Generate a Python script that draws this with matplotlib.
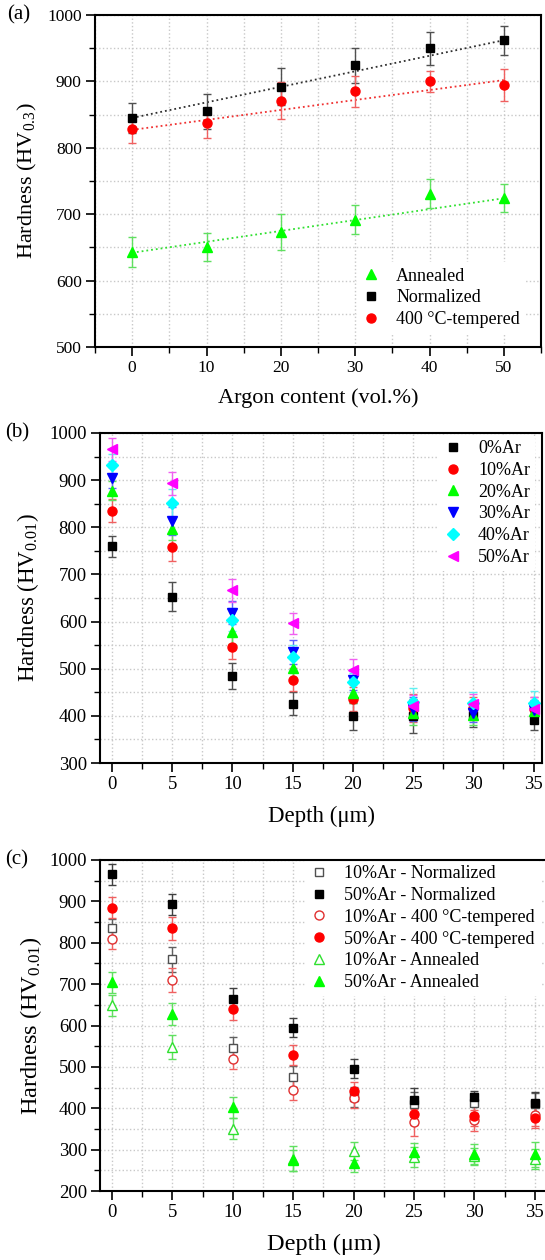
import numpy as np
from matplotlib import pyplot as plt
from matplotlib.ticker import MultipleLocator

plt.rcParams['font.family'] = ['Liberation Serif', 'DejaVu Serif']
plt.rcParams['mathtext.fontset'] = 'custom'
plt.rcParams['mathtext.rm'] = 'Liberation Serif'
plt.rcParams['mathtext.it'] = 'Liberation Serif:italic'

# ---- panel (a) data ----
argon = [0, 10, 20, 30, 40, 50]
hv_annealed = [643, 651, 673, 692, 731, 725]
err_annealed = [22, 21, 27, 22, 22, 21]
hv_normalized = [845, 855, 892, 924, 950, 962]
err_normalized = [23, 26, 28, 26, 25, 22]
hv_tempered = [828, 837, 871, 885, 900, 895]
err_tempered = [21, 22, 28, 23, 16, 24]
# linear fit lines (values at 0 and 50 vol.%)
fit_x = [0, 50]
fit_annealed = [642, 724]
fit_normalized = [845, 962]
fit_tempered = [827, 902]

# ---- panel (b) data ----
depth = [0, 5, 10, 15, 20, 25, 30, 35]
b_labels = ["0%Ar", "10%Ar", "20%Ar", "30%Ar", "40%Ar", "50%Ar"]
b_ar0 = [760, 653, 485, 426, 399, 400, 401, 392]
b_ar10 = [835, 759, 546, 477, 436, 416, 416, 414]
b_ar20 = [878, 797, 578, 501, 448, 406, 401, 411]
b_ar30 = [905, 814, 619, 536, 475, 415, 407, 413]
b_ar40 = [933, 851, 604, 525, 471, 430, 428, 428]
b_ar50 = [965, 893, 666, 596, 498, 420, 426, 414]
b_err0 = [22, 31, 28, 24, 28, 36, 25, 22]
b_err10 = [24, 30, 26, 25, 25, 30, 25, 25]
b_err20 = [20, 25, 25, 22, 20, 25, 20, 20]
b_err30 = [22, 30, 25, 25, 20, 25, 20, 20]
b_err40 = [22, 30, 25, 25, 20, 30, 22, 25]
b_err50 = [25, 25, 25, 23, 22, 25, 20, 25]

# ---- panel (c) data ----
c_labels = ["10%Ar - Normalized", "50%Ar - Normalized",
            "10%Ar - 400 \u00b0C-tempered", "50%Ar - 400 \u00b0C-tempered",
            "10%Ar - Annealed", "50%Ar - Annealed"]
c_n10 = [835, 760, 545, 476, 427, 410, 413, 411]
c_n50 = [965, 893, 665, 595, 496, 419, 426, 413]
c_t10 = [809, 710, 519, 444, 425, 366, 371, 383]
c_t50 = [885, 835, 639, 529, 441, 385, 381, 377]
c_a10 = [649, 548, 351, 278, 297, 282, 285, 277]
c_a50 = [704, 628, 402, 274, 267, 294, 289, 289]
c_en10 = [22, 30, 28, 25, 25, 30, 25, 25]
c_en50 = [25, 26, 26, 22, 23, 30, 15, 27]
c_et10 = [25, 30, 25, 25, 25, 33, 25, 25]
c_et50 = [25, 28, 25, 25, 23, 25, 25, 25]
c_ea10 = [25, 30, 25, 30, 22, 25, 20, 25]
c_ea50 = [25, 27, 25, 25, 22, 22, 25, 30]

W, H = 545., 1260.
fig = plt.figure(figsize=(5.45, 12.6), dpi=100)

def px_axes(l, t, r, b):
    return fig.add_axes([l / W, 1 - b / H, (r - l) / W, (b - t) / H])

def style(ax, xmaj, xmin, ymaj, ymin, ts):
    ax.xaxis.set_major_locator(MultipleLocator(xmaj))
    ax.xaxis.set_minor_locator(MultipleLocator(xmin))
    ax.yaxis.set_major_locator(MultipleLocator(ymaj))
    ax.yaxis.set_minor_locator(MultipleLocator(ymin))
    ax.grid(True, which='both', ls=':', color='#c8c8c8', lw=1.0)
    ax.set_axisbelow(True)
    ax.tick_params(which='both', direction='out', top=False, right=False, labelsize=ts, pad=3)
    ax.tick_params(which='major', length=6.5, width=1.2)
    ax.tick_params(which='minor', length=4, width=1.0)
    for s in ax.spines.values():
        s.set_linewidth(1.5)

def eb(ax, x, y, e, color, marker, ms, label, ecolor, mfc=None):
    ax.errorbar(x, y, yerr=e, fmt=marker, color=color, ms=ms, mfc=mfc if mfc else color,
                mec=color, ecolor=ecolor, elinewidth=1.0, capsize=3, capthick=1.0,
                label=label, mew=1.0)

leg_kw = dict(fontsize=13, frameon=True, facecolor='white', edgecolor='none',
              framealpha=1, handletextpad=0.9, labelspacing=0.26, borderpad=0.3,
              handlelength=1.0, borderaxespad=0)

# ---------------- (a) ----------------
ax = px_axes(95, 15, 541, 347)
style(ax, 10, 5, 100, 50, 12.5)
ax.set_xlim(-5, 55)
ax.set_ylim(500, 1000)
ax.plot(fit_x, fit_normalized, ls=':', color='#303030', lw=1.3)
ax.plot(fit_x, fit_tempered, ls=':', color='#f03030', lw=1.3)
ax.plot(fit_x, fit_annealed, ls=':', color='#30e030', lw=1.3)
eb(ax, argon, hv_annealed, err_annealed, '#00ff00', '^', 7.5, 'Annealed', '#60e060')
eb(ax, argon, hv_normalized, err_normalized, '#000000', 's', 6, 'Normalized', '#505050')
eb(ax, argon, hv_tempered, err_tempered, '#ff0000', 'o', 6.5, '400 \u00b0C-tempered', '#f06060')
ax.set_xlabel('Argon content (vol.%)', fontsize=16, labelpad=9)
ax.set_ylabel('Hardness (HV$_{0.3}$)', fontsize=16, labelpad=6)
h, l = ax.get_legend_handles_labels()
ax.legend([x[0] for x in h], l, loc='lower right', bbox_to_anchor=(0.965, 0.041), **leg_kw)
fig.text(7 / W, 1 - 15 / H, '(a)', fontsize=15, va='center')

# ---------------- (b) ----------------
ax = px_axes(100, 433, 542, 763)
style(ax, 5, 2.5, 100, 50, 13.5)
ax.set_xlim(-1, 35.7)
ax.set_ylim(300, 1000)
b_series = [b_ar0, b_ar10, b_ar20, b_ar30, b_ar40, b_ar50]
b_errs = [b_err0, b_err10, b_err20, b_err30, b_err40, b_err50]
b_cols = ['#000000', '#ff0000', '#00ff00', '#0000ff', '#00ffff', '#ff00ff']
b_ecols = ['#505050', '#f06060', '#60e060', '#6060ff', '#60f0f0', '#f060f0']
b_marks = ['s', 'o', '^', 'v', 'D', '<']
b_ms = [6, 6.5, 7.5, 7.5, 6, 7.5]
for yv, ev, c, ec, m, ms, lb in zip(b_series, b_errs, b_cols, b_ecols, b_marks, b_ms, b_labels):
    eb(ax, depth, yv, ev, c, m, ms, lb, ec)
ax.set_xlabel('Depth (\u03bcm)', fontsize=16.5, labelpad=9)
ax.set_ylabel('Hardness (HV$_{0.01}$)', fontsize=16.5, labelpad=6)
h, l = ax.get_legend_handles_labels()
ax.legend([x[0] for x in h], l, loc='upper right', bbox_to_anchor=(0.985, 0.994), **leg_kw)
fig.text(5 / W, 1 - 433 / H, '(b)', fontsize=15, va='center')

# ---------------- (c) ----------------
ax = px_axes(100, 860, 548, 1191)
style(ax, 5, 2.5, 100, 50, 13.5)
ax.set_xlim(-1, 36.1)
ax.set_ylim(200, 1000)
c_series = [c_n10, c_n50, c_t10, c_t50, c_a10, c_a50]
c_errs = [c_en10, c_en50, c_et10, c_et50, c_ea10, c_ea50]
c_cols = ['#505050', '#000000', '#e03030', '#ff0000', '#30e030', '#00ff00']
c_ecols = ['#606060', '#404040', '#f06060', '#f06060', '#60e060', '#60e060']
c_marks = ['s', 's', 'o', 'o', '^', '^']
c_ms = [6, 6, 6.5, 6.5, 7.5, 7.5]
c_fill = ['white', None, 'white', None, 'white', None]
for yv, ev, c, ec, m, ms, f, lb in zip(c_series, c_errs, c_cols, c_ecols, c_marks, c_ms, c_fill, c_labels):
    eb(ax, depth, yv, ev, c, m, ms, lb, ec, mfc=f)
ax.set_xlabel('Depth (\u03bcm)', fontsize=17.5, labelpad=9)
ax.set_ylabel('Hardness (HV$_{0.01}$)', fontsize=17.5, labelpad=4)
h, l = ax.get_legend_handles_labels()
leg = ax.legend([x[0] for x in h], l, loc='upper left', bbox_to_anchor=(0.457, 1.0), **leg_kw)
leg.set_zorder(2.4)
fig.text(5 / W, 1 - 860 / H, '(c)', fontsize=15, va='center')

plt.savefig('out.png', dpi=100)
